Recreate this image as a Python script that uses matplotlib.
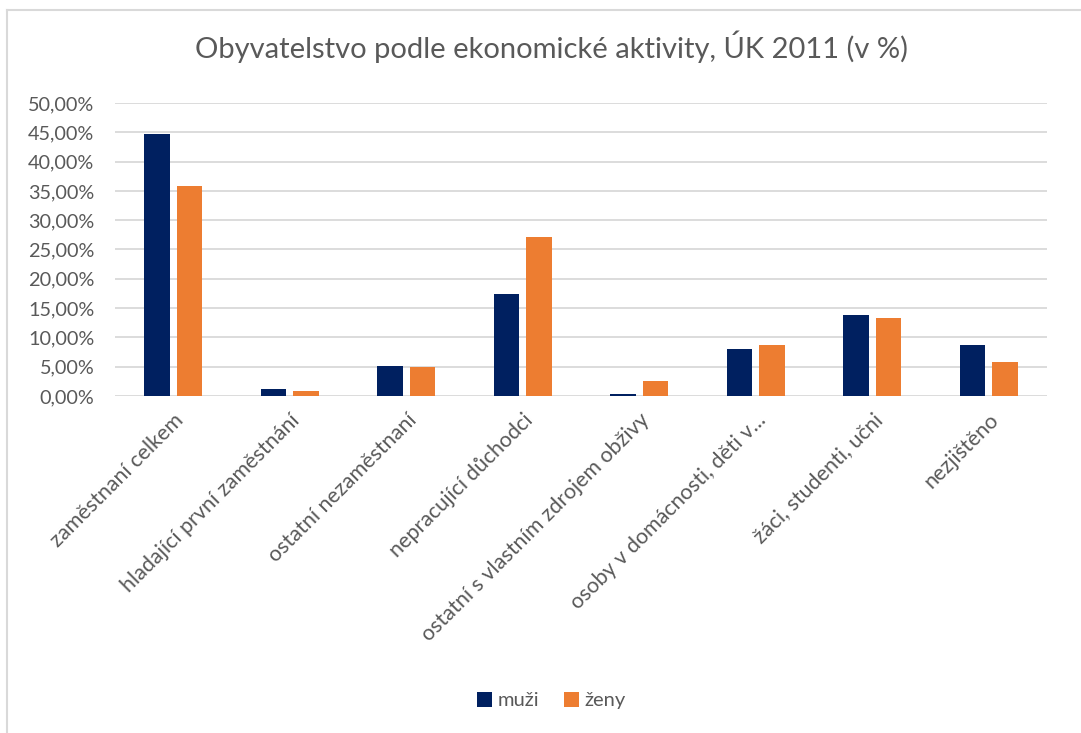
import numpy as np
import matplotlib.pyplot as plt
from matplotlib.lines import Line2D
from matplotlib.ticker import FuncFormatter

plt.rcParams['font.family'] = ['Lato', 'DejaVu Sans']

kategorie = ['zaměstnaní celkem', 'hladající první zaměstnání', 'ostatní nezaměstnaní',
             'nepracující důchodci', 'ostatní s vlastním zdrojem obživy',
             'osoby v domácnosti, děti v...', 'žáci, studenti, učni', 'nezjištěno']
muzi = [44.66, 1.14, 5.06, 17.39, 0.34, 8.07, 13.75, 8.64]
zeny = [35.90, 0.90, 4.89, 27.05, 2.56, 8.64, 13.24, 5.80]

text_col = '#595959'
grid_col = '#d9d9d9'

fig = plt.figure(figsize=(10.81, 7.33), dpi=100)
ax = fig.add_axes([0.1064, 0.4598, 0.8622, 0.3997])

x = np.arange(len(kategorie))
w = 0.22
gap = 0.057
ax.bar(x - (w + gap) / 2, muzi, w, color='#002060', label='muži', zorder=3)
ax.bar(x + (w + gap) / 2, zeny, w, color='#ED7D31', label='ženy', zorder=3)

ax.set_xlim(-0.5, len(kategorie) - 0.5)
ax.set_ylim(0, 50)
ax.set_yticks(np.arange(0, 51, 5))
ax.yaxis.set_major_formatter(FuncFormatter(lambda v, p: f'{v:.2f}%'.replace('.', ',')))
ax.grid(axis='y', color=grid_col, linewidth=1.3, zorder=0)
for s in ax.spines.values():
    s.set_visible(False)
ax.tick_params(axis='both', length=0, colors=text_col)
ax.tick_params(axis='y', pad=15, labelsize=14.3)
ax.set_xticks(x)
ax.set_xticklabels(kategorie, rotation=45, ha='right', rotation_mode='anchor', color=text_col)
ax.tick_params(axis='x', pad=10, labelsize=15.5)

fig.suptitle('Obyvatelstvo podle ekonomické aktivity, ÚK 2011 (v %)', x=0.51, y=0.958,
             fontsize=21, color=text_col)

fig.legend(loc='center', bbox_to_anchor=(0.51, 0.044), ncol=2, frameon=False,
           fontsize=14.5, labelcolor=text_col, handlelength=0.75, handleheight=0.75,
           handletextpad=0.3, columnspacing=1.2)

# chart frame (top and left edges visible)
fig.add_artist(Line2D([7 / 1081, 1], [1 - 10 / 733, 1 - 10 / 733], color=grid_col, lw=1.5,
                      transform=fig.transFigure))
fig.add_artist(Line2D([7 / 1081, 7 / 1081], [0, 1 - 10 / 733], color=grid_col, lw=1.5,
                      transform=fig.transFigure))

fig.savefig('out.png', dpi=100)
